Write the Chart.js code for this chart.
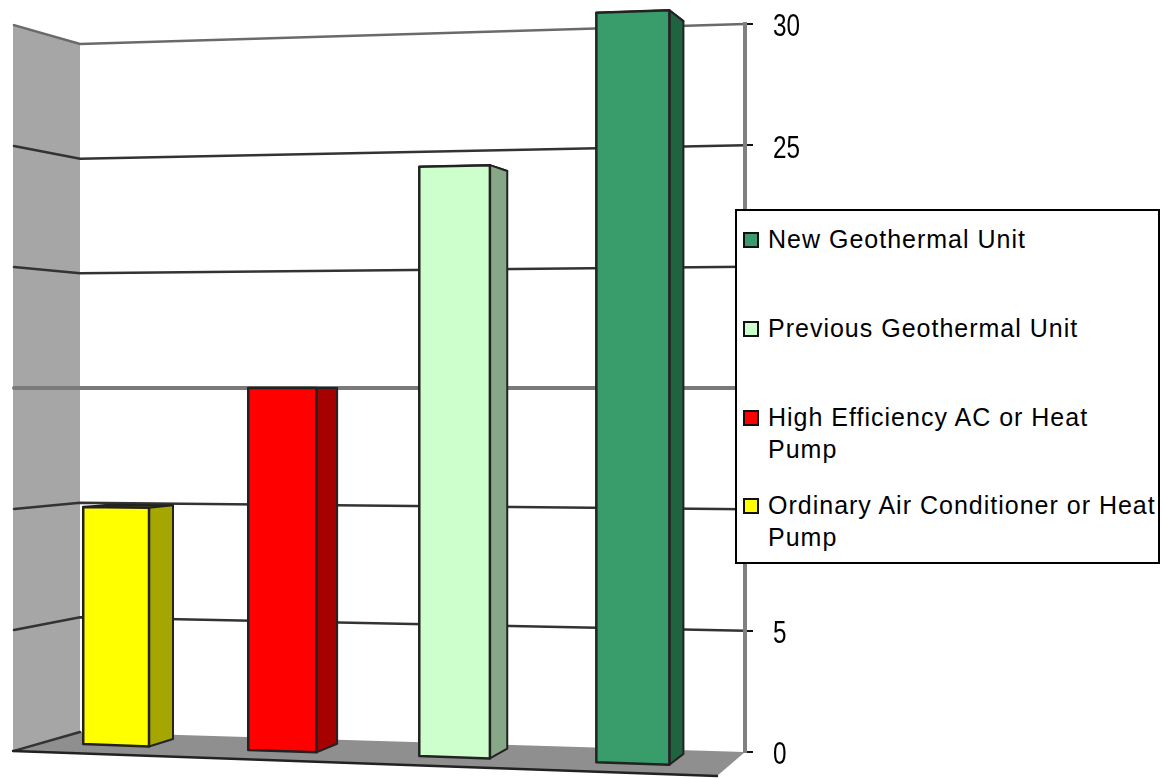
<!DOCTYPE html>
<html>
<head>
<meta charset="utf-8">
<script src="https://cdn.jsdelivr.net/npm/chart.js@4"></script>
<style>
  html, body { margin: 0; padding: 0; background: #fff; }
  #stage { position: relative; width: 1163px; height: 779px; overflow: hidden; }
  #legend {
    position: absolute; left: 735px; top: 209px; width: 421px; height: 351px;
    background: #fff; border: 2px solid #000;
    font: 25px "Liberation Sans", Arial, sans-serif; color: #000; letter-spacing: 1px;
  }
  .row { position: absolute; left: 31px; width: 392px; line-height: 32px; }
  .swatch { position: absolute; left: -25px; top: 9px; width: 12px; height: 12px; border: 2px solid #111; }
</style>
</head>
<body>
<div id="stage">
  <canvas id="chart" width="1163" height="779"></canvas>
  <div id="legend"></div>
</div>
<script>
// Chart data
const categories = ["Ordinary Air Conditioner or Heat Pump", "High Efficiency AC or Heat Pump", "Previous Geothermal Unit", "New Geothermal Unit"];
const values = [10, 15, 24, 30];
const faceColors = ["#ffff00", "#ff0000", "#ccffcc", "#399c6b"];
const sideColors = ["#a6a600", "#a60000", "#86a886", "#1f6340"];
const topColors = ["#6e6e00", "#800000", "#a8d0a8", "#2a7a52"];
const axisTicks = [0, 5, 10, 15, 20, 25, 30];

// Perspective helpers: pixels from the category and value scales are pushed
// through a simple vanishing-line model around the eye level of the 3D box.
let eyeY = 388;
let firstCentre = 163;

function frontX(u) {
  const t = u - firstCentre;
  return 116 + 0.9817 * t + 1.09e-4 * t * t;
}
function frontPoint(u, py) {
  const x = frontX(u);
  const k = 0.981 + (x - 83) * 9.7e-5;
  return { x, y: eyeY + (py - eyeY) * k };
}
function backPoint(u, py) {
  const x = frontX(u) + 24.67 - 0.02 * (u - firstCentre);
  const k = 0.967 + (x - 173) * 8e-5;
  return { x, y: eyeY + (py - eyeY) * k };
}
function polygon(ctx, pts, fill, stroke, width) {
  ctx.beginPath();
  pts.forEach((p, i) => (i ? ctx.lineTo(p.x, p.y) : ctx.moveTo(p.x, p.y)));
  ctx.closePath();
  if (fill) { ctx.fillStyle = fill; ctx.fill(); }
  if (stroke) { ctx.strokeStyle = stroke; ctx.lineWidth = width; ctx.lineJoin = "round"; ctx.stroke(); }
}

const boxPlugin = {
  id: "box3d",
  // Walls, floor and receding grid lines
  beforeDraw(c) {
    const { ctx, chartArea: a, scales: { y } } = c;
    const farX = 13, sideK = 0.997, backK = 0.945;
    const at = (x, py, k) => ({ x, y: eyeY + (py - eyeY) * k });
    const top = y.getPixelForValue(30), zero = y.getPixelForValue(0);
    ctx.save();
    polygon(ctx, [at(farX, top, sideK), at(a.left, top, backK), at(a.left, zero, backK), at(farX, zero, sideK)], "#a6a6a6");
    const frontRight = at(717, zero, 1.066);
    polygon(ctx, [at(farX, zero, sideK), at(a.left, zero, backK), at(a.right, zero, 1), frontRight], "#8f8f8f");
    ctx.lineCap = "round";
    axisTicks.forEach(v => {
      const py = y.getPixelForValue(v);
      ctx.beginPath();
      const p0 = at(farX + 1, py, sideK), p1 = at(a.left, py, backK), p2 = at(a.right, py, 1);
      ctx.moveTo(p0.x, p0.y);
      ctx.lineTo(p1.x, p1.y);
      if (v > 0) ctx.lineTo(p2.x, p2.y);
      ctx.strokeStyle = v === 15 ? "#7a7a7a" : v === 30 ? "#6a6a6a" : "#333";
      ctx.lineWidth = v === 15 ? 4 : 2.5;
      ctx.stroke();
    });
    ctx.beginPath();
    const e0 = at(farX, zero, sideK);
    ctx.moveTo(e0.x, e0.y); ctx.lineTo(frontRight.x, frontRight.y);
    ctx.strokeStyle = "#222"; ctx.lineWidth = 2.5; ctx.stroke();
    ctx.restore();
  },
  // Each bar element keeps the geometry the library computed and paints it as a box.
  afterDatasetsUpdate(c) {
    eyeY = c.scales.y.getPixelForValue(15);
    firstCentre = c.scales.x.getPixelForValue(0);
    c.getDatasetMeta(0).data.forEach((bar, i) => {
      bar.draw = function (ctx) {
        const l = this.x - this.width / 2, r = this.x + this.width / 2;
        const fl = frontPoint(l, this.y), fr = frontPoint(r, this.y);
        const bl = frontPoint(r, this.base), br = frontPoint(l, this.base);
        const bt = backPoint(r, this.y), bb = backPoint(r, this.base);
        const bt2 = backPoint(l, this.y);
        const edge = "#222";
        ctx.save();
        polygon(ctx, [fl, fr, bt, bt2], topColors[i], edge, 2);
        polygon(ctx, [fr, bt, bb, bl], sideColors[i], edge, 2);
        polygon(ctx, [fl, fr, bl, br], faceColors[i], edge, 2.5);
        ctx.restore();
      };
    });
  },
  // Condensed value labels next to the axis
  afterDraw(c) {
    const { ctx, chartArea: a, scales: { y } } = c;
    ctx.save();
    ctx.font = '32px "Liberation Sans", Arial, sans-serif';
    ctx.fillStyle = "#000";
    ctx.textAlign = "left";
    ctx.textBaseline = "middle";
    axisTicks.forEach(v => {
      ctx.save();
      ctx.translate(a.right + 28, y.getPixelForValue(v) + 3.5);
      ctx.scale(0.76, 1);
      ctx.fillText(String(v), 0, 0);
      ctx.restore();
    });
    ctx.restore();
  }
};

new Chart(document.getElementById("chart"), {
  type: "bar",
  data: {
    labels: categories,
    datasets: [{ data: values, backgroundColor: faceColors, barPercentage: 0.403, categoryPercentage: 1, clip: false }]
  },
  plugins: [boxPlugin],
  options: {
    responsive: false,
    animation: false,
    layout: { padding: { left: 80, top: 24, bottom: 27, right: 0 } },
    plugins: { legend: { display: false }, tooltip: { enabled: false } },
    scales: {
      x: { display: false, grid: { display: false } },
      y: {
        position: "right", min: 0, max: 30,
        afterFit(s) { s.width = 418; },
        afterBuildTicks(s) { s.ticks = axisTicks.map(value => ({ value })); },
        border: { color: "#808080", width: 4 },
        grid: { drawOnChartArea: false, drawTicks: true, tickLength: 8, color: "#111", lineWidth: 2 },
        ticks: { display: false }
      }
    }
  }
});

// Legend box, listed with the tallest bar first
const legend = document.getElementById("legend");
const rowTops = [12, 101, 190, 278];
categories.slice().reverse().forEach((name, i) => {
  const idx = categories.length - 1 - i;
  const row = document.createElement("div");
  row.className = "row";
  row.style.top = rowTops[i] + "px";
  row.textContent = name;
  const sw = document.createElement("span");
  sw.className = "swatch";
  sw.style.background = faceColors[idx];
  row.appendChild(sw);
  legend.appendChild(row);
});
</script>
</body>
</html>
